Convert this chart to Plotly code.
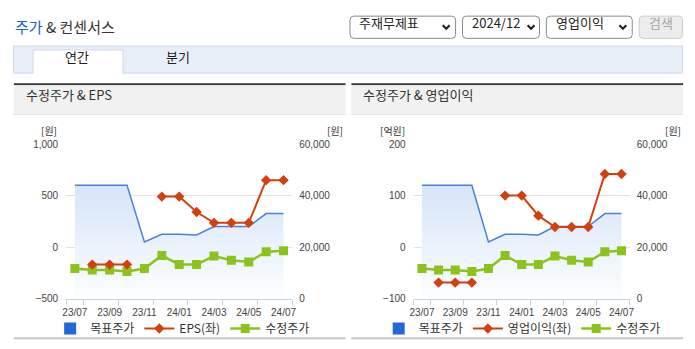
import plotly.graph_objects as go

W, H = 695, 349

# ---------------- data ----------------
months = ["23/07", "23/08", "23/09", "23/10", "23/11", "23/12", "24/01",
          "24/02", "24/03", "24/04", "24/05", "24/06", "24/07"]
target_price = [44000, 44000, 44000, 44000, 22000, 25000, 25000, 24700,
                28000, 28000, 28000, 33000, 33000]
adj_price = [11700, 11100, 11100, 10500, 11700, 16700, 13200, 13200,
             16500, 14900, 14200, 18200, 18600]
eps = [None, -170, -170, -170, None, 490, 490, 340, 235, 235, 235, 650, 650]
op_profit = [None, -69, -69, -69, None, 100, 100, 61, 39, 39, 39, 142, 142]

price_ticks = [0, 20000, 40000, 60000]
eps_ticks = [-500, 0, 500, 1000]
op_ticks = [-100, 0, 100, 200]

names_left = ["목표주가", "EPS(좌)", "수정주가"]
names_right = ["목표주가", "영업이익(좌)", "수정주가"]

# ---------------- styling ----------------
BLUE = "#4a80dc"
BLUE_LEG = "#2467d8"
RED = "#d2400e"
GREEN = "#8cc21c"
KFONT = "Noto Sans CJK KR"
NFONT = "Liberation Sans"
AXIS_LINE = "#c3d1e2"
GRID = "#e2e2e2"

x = list(range(len(months)))
tick_idx = x[::2]
tick_text = months[::2]
boundaries = [-0.5] + [i + 0.5 for i in tick_idx[:-1]] + [len(months) - 0.5]


def px(v):
    return v / W


def py(v):
    return 1 - v / H


fig = go.Figure()


def add_chart(xa, ya_price, ya_left, left_vals, names, legend):
    fig.add_trace(go.Scatter(
        x=x, y=target_price, xaxis=xa, yaxis=ya_price, mode="lines",
        line=dict(color=BLUE, width=1.5), fill="tozeroy",
        fillgradient=dict(type="vertical", start=0, stop=44000,
                          colorscale=[[0, "rgba(255,255,255,1)"],
                                      [1, "rgba(214,229,249,1)"]]),
        showlegend=False, hoverinfo="skip"))
    fig.add_trace(go.Scatter(
        x=[None], y=[None], xaxis=xa, yaxis=ya_price, mode="markers",
        marker=dict(symbol="square", size=12, color=BLUE_LEG),
        name=names[0], legend=legend))
    fig.add_trace(go.Scatter(
        x=x, y=left_vals, xaxis=xa, yaxis=ya_left, mode="lines+markers",
        line=dict(color=RED, width=2),
        marker=dict(symbol="diamond", size=8, color=RED),
        connectgaps=False, name=names[1], legend=legend))
    fig.add_trace(go.Scatter(
        x=x, y=adj_price, xaxis=xa, yaxis=ya_price, mode="lines+markers",
        line=dict(color=GREEN, width=2.5),
        marker=dict(symbol="square", size=9, color=GREEN),
        name=names[2], legend=legend))


add_chart("x", "y", "y2", eps, names_left, "legend")
add_chart("x2", "y3", "y4", op_profit, names_right, "legend2")

tickfont = dict(family=NFONT, size=10, color="#444")


def xaxis_cfg(x0, x1, anchor):
    return dict(domain=[px(x0), px(x1)], range=[-0.5, len(months) - 0.5],
                tickmode="array", tickvals=tick_idx, ticktext=tick_text,
                ticks="", showline=True, linecolor=AXIS_LINE, linewidth=1,
                showgrid=False, zeroline=False, anchor=anchor,
                tickfont=tickfont, ticklabelstandoff=4,
                minor=dict(tickmode="array", tickvals=boundaries,
                           ticks="outside", ticklen=5, tickcolor=AXIS_LINE,
                           showgrid=False))


ydom = [py(303), py(143)]


def price_axis(anchor):
    return dict(domain=ydom, range=[0, 60000], tickmode="array",
                tickvals=price_ticks, tickformat=",", side="right",
                anchor=anchor, showgrid=True, gridcolor=GRID, zeroline=False,
                ticks="", showline=False, tickfont=tickfont,
                ticklabelstandoff=6)


def left_axis(overlay, rng, vals, anchor):
    return dict(overlaying=overlay, range=rng, tickmode="array",
                tickvals=vals, tickformat=",", side="left", anchor=anchor,
                showgrid=False, zeroline=False, ticks="", showline=False,
                tickfont=tickfont, ticklabelstandoff=7)


# ---------------- decorations ----------------
shapes = []
annotations = []


def rect(x0, y0, x1, y1, fill, line=None, lw=1):
    shapes.append(dict(type="rect", xref="paper", yref="paper",
                       x0=px(x0), x1=px(x1), y0=py(y1), y1=py(y0),
                       fillcolor=fill, layer="below",
                       line=dict(color=line or fill, width=lw if line else 0)))


def rrect(x0, y0, x1, y1, r, fill, line):
    pts = (f"M{px(x0 + r)},{py(y0)} L{px(x1 - r)},{py(y0)} "
           f"Q{px(x1)},{py(y0)} {px(x1)},{py(y0 + r)} "
           f"L{px(x1)},{py(y1 - r)} Q{px(x1)},{py(y1)} {px(x1 - r)},{py(y1)} "
           f"L{px(x0 + r)},{py(y1)} Q{px(x0)},{py(y1)} {px(x0)},{py(y1 - r)} "
           f"L{px(x0)},{py(y0 + r)} Q{px(x0)},{py(y0)} {px(x0 + r)},{py(y0)} Z")
    shapes.append(dict(type="path", xref="paper", yref="paper", path=pts,
                       fillcolor=fill, line=dict(color=line, width=1),
                       layer="below"))


def polyline(pts, color, width):
    p = "M" + " L".join(f"{px(a)},{py(b)}" for a, b in pts)
    shapes.append(dict(type="path", xref="paper", yref="paper", path=p,
                       line=dict(color=color, width=width), layer="above"))


def text(t, xp, yp, size=12, color="#333", xanchor="left", family=KFONT):
    # CJK font line box sits low; nudge up so the glyphs centre on yp
    yp = yp - round(size * 0.36)
    annotations.append(dict(text=t, x=px(xp), y=py(yp), xref="paper",
                            yref="paper", xanchor=xanchor, yanchor="middle",
                            showarrow=False,
                            font=dict(family=family, size=size, color=color)))


# title
text("<span style='color:#1f5fcc'>주가</span> & 컨센서스", 9, 26, size=15,
     color="#333")

# dropdowns
dd = [(350, 458, "주재무제표", 448), (464, 543, "2024/12", 534),
      (549, 637, "영업이익", 627)]
for x0, x1, label, cx in dd:
    rrect(x0 + 0.5, 10.5, x1 - 0.5, 33.5, 4, "white", "#8a8a8a")
    text(label, x0 + 8, 22, size=13, color="#222")
    polyline([(cx - 3.5, 20), (cx, 23.5), (cx + 3.5, 20)], "#222", 2.2)
rrect(643.5, 10.5, 687.5, 33.5, 4, "#ededed", "#cccccc")
text("검색", 666, 22, size=13, color="#a8a8a8", xanchor="center")

# tab bar
rect(9.5, 41.5, 687.5, 69.5, "#e8eef8", "#cfd9e7")
rect(29.5, 45.5, 120.5, 70.5, "white")
polyline([(29.5, 70), (29.5, 45.5), (120.5, 45.5), (120.5, 70)], "#cfd9e7", 1)
text("연간", 74, 57, size=13, color="#222", xanchor="center")
text("분기", 176, 57, size=13, color="#222", xanchor="center")

# panels
for x0, x1, ttl in [(10, 346, "수정주가 & EPS"), (352, 688, "수정주가 & 영업이익")]:
    rect(x0, 80, x1, 82, "#383838")
    rect(x0, 82, x1, 112, "#f1f1f1")
    rect(x0, 112, x1, 113, "#dedede")
    rect(x0, 343, x1, 345, "#c8c8c8")
    text(ttl, x0 + 10, 97, size=13, color="#333")

# axis units
text("[원]", 46, 133, size=10, color="#333", xanchor="center")
text("[원]", 335, 133, size=10, color="#333", xanchor="center")
text("[억원]", 394, 133, size=10, color="#333", xanchor="center")
text("[원]", 678, 133, size=10, color="#333", xanchor="center")

legend_common = dict(orientation="h", xanchor="center", yanchor="middle",
                     bgcolor="rgba(0,0,0,0)", itemwidth=30,
                     font=dict(family=KFONT, size=12, color="#333"),
                     traceorder="normal", tracegroupgap=0)

fig.update_layout(
    width=W, height=H, margin=dict(l=0, r=0, t=0, b=0),
    paper_bgcolor="white", plot_bgcolor="rgba(0,0,0,0)",
    font=dict(family=KFONT),
    xaxis=xaxis_cfg(63, 292, "y"),
    yaxis=price_axis("x"),
    yaxis2=left_axis("y", [-500, 1000], eps_ticks, "x"),
    xaxis2=xaxis_cfg(415, 634, "y3"),
    yaxis3=price_axis("x2"),
    yaxis4=left_axis("y3", [-100, 200], op_ticks, "x2"),
    legend=dict(x=px(181), y=py(334), **legend_common),
    legend2=dict(x=px(525), y=py(334), **legend_common),
    shapes=shapes, annotations=annotations,
    hovermode=False,
)

fig.write_html("out.html")
